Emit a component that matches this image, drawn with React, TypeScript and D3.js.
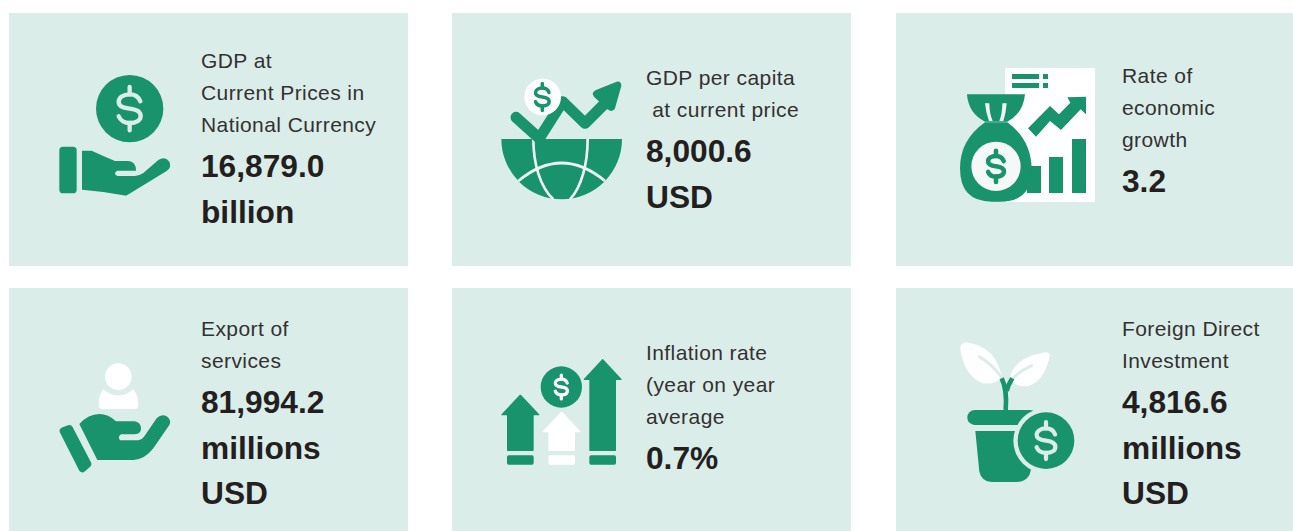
import React from "react";
import * as d3 from "d3";

const WIDTH = 1293;
const HEIGHT = 531;
const CARD_BG = "#dbede8";
const GREEN = "#18936b";
const INK = "#231f20";

const cardLabels = [
  ["GDP at", "Current Prices in", "National Currency"],
  ["GDP per capita", " at current price"],
  ["Rate of", "economic", "growth"],
  ["Export of", "services"],
  ["Inflation rate", "(year on year", "average"],
  ["Foreign Direct", "Investment"],
];
const cardValues = [
  ["16,879.0", "billion"],
  ["8,000.6", "USD"],
  ["3.2"],
  ["81,994.2", "millions", "USD"],
  ["0.7%"],
  ["4,816.6", "millions", "USD"],
];

// layout of the grid, not data
const columnLeft = [9, 452, 896];
const columnWidth = [399, 399, 397];
const rowTop = [13, 288];
const rowHeight = [253, 243];
const textLeft = [201, 646, 1122];
const firstBaseline = [68, 85, 83, 336, 360, 336];
const iconOrigin = [
  [40, 60],
  [490, 70],
  [950, 60],
  [40, 350],
  [490, 350],
  [950, 335],
];

const Dollar = ({ x, y, k, color, w = 13 }: any) => (
  <g transform={`translate(${x},${y}) scale(${k})`} fill="none" stroke={color} strokeWidth={w} strokeLinecap="round">
    <path d="M32 -22C27 -36 14 -43 0 -43C-20 -43 -33 -33 -33 -20C-33 -6 -18 -2 0 0C18 2 33 7 33 22C33 35 20 43 0 43C-14 43 -28 36 -33 23" />
    <path d="M0 -43V-65M0 43V65" />
  </g>
);

// icons are drawn at 3x of the page, so they are scaled by 1/3
const icons = [
  () => (
    <g>
      <circle cx={269} cy={146} r={101} fill={GREEN} />
      <Dollar x={269} y={146} k={1} color={CARD_BG} />
      <rect x={58} y={260} width={52} height={140} rx={11} fill={GREEN} />
      <path
        fill={GREEN}
        d="M126 272L155 272Q190 288 225 303L265 303Q288 305 288 332L232 332Q218 340 232 348L285 348Q298 347 310 339L355 300Q375 288 388 305Q396 322 380 333L262 405Q258 408 250 406L190 396L126 389Z"
      />
    </g>
  ),
  () => (
    <g>
      <path fill={GREEN} d="M34 207L396 207A181 181 0 0 1 34 207Z" />
      <g fill="none" stroke="#eef6f3" strokeWidth={8}>
        <path d="M130 207C130 280 150 350 190 388" />
        <path d="M293 207C293 280 275 350 240 388" />
        <path d="M85 333Q215 225 345 333" />
      </g>
      <path
        fill="none"
        stroke={GREEN}
        strokeWidth={33}
        strokeLinecap="round"
        strokeLinejoin="round"
        d="M78 142L148 205L218 95L285 160L355 90"
      />
      <path fill={GREEN} d="M318 60L380 35Q394 33 394 48L375 115Q368 130 352 118L312 80Q302 68 318 60Z" />
      <circle cx={158} cy={81} r={55} fill="#fff" />
      <Dollar x={157} y={81} k={0.62} color={GREEN} w={17} />
    </g>
  ),
  () => (
    <g>
      <rect x={165} y={24} width={270} height={402} fill="#fff" />
      <g fill={GREEN}>
        <rect x={186} y={42} width={81} height={15} />
        <rect x={279} y={42} width={15} height={15} />
        <rect x={186} y={69} width={81} height={15} />
        <rect x={279} y={69} width={15} height={15} />
        <rect x={231} y={318} width={42} height={81} />
        <rect x={297} y={291} width={42} height={108} />
        <rect x={366} y={237} width={42} height={162} />
        <path d="M234 205L300 138L327 163L361 128L352 112L408 110L408 163L392 148L333 210L300 183L258 230Z" />
        <path d="M51 103L225 103Q220 160 172 185L105 185Q55 160 51 103Z" />
        <path d="M105 187L172 187Q245 240 245 330Q245 425 150 425L125 425Q30 425 30 325Q30 240 105 187Z" />
      </g>
      <path fill="#eef6f3" d="M105 130Q108 160 117 183L128 183Q118 160 118 130ZM170 130Q168 160 160 183L148 183Q157 160 157 130Z" />
      <circle cx={138} cy={319} r={74} fill="#f4f9f7" />
      <Dollar x={138} y={319} k={0.72} color={GREEN} w={19} />
    </g>
  ),
  () => (
    <g>
      <circle cx={235} cy={80} r={40} fill="#fff" />
      <path fill="#fff" d="M190 118Q235 155 280 118Q295 135 295 165Q295 177 283 177L188 177Q176 177 176 165Q176 135 190 118Z" />
      <path
        fill={GREEN}
        stroke={GREEN}
        strokeWidth={22}
        strokeLinejoin="round"
        d="M70 243L88 236L143 342L127 356Z"
      />
      <path
        fill={GREEN}
        d="M118 222Q145 192 178 192Q205 192 228 214L285 214Q303 218 303 236Q303 250 285 253L243 253Q232 260 240 271L295 271Q305 270 312 260L350 205Q365 190 382 200Q395 212 388 225L340 295Q315 328 280 330L172 330Z"
      />
    </g>
  ),
  () => {
    const arrow = (apex: number, head: number, left: number, fill: string) => {
      const cx = left + 40;
      return (
        <g fill={fill}>
          <path
            stroke={fill}
            strokeWidth={4}
            strokeLinejoin="round"
            d={`M${cx} ${apex + 2}L${cx + 55} ${head}L${left + 78} ${head}L${left + 78} 301L${left + 2} 301L${left + 2} ${head}L${cx - 55} ${head}Z`}
          />
          <rect x={left} y={316} width={80} height={28} rx={5} />
        </g>
      );
    };
    return (
      <g>
        {arrow(134, 194, 51, GREEN)}
        {arrow(185, 245, 175, "#fff")}
        {arrow(27, 88, 298, GREEN)}
        <circle cx={214} cy={111} r={62} fill={GREEN} />
        <Dollar x={214} y={111} k={0.55} color="#fff" w={18} />
      </g>
    );
  },
  () => (
    <g>
      <path fill="#fff" d="M31 42C30 26 42 20 60 24C110 36 140 60 156 126C140 146 112 150 92 142C60 128 36 90 31 42Z" />
      <path fill="#fff" d="M299 62C300 52 290 50 275 54C225 64 190 85 179 128C190 150 215 158 238 152C270 142 292 105 299 62Z" />
      <g fill="none" stroke={CARD_BG} strokeWidth={9} strokeLinecap="round">
        <path d="M88 65Q130 90 155 128" />
        <path d="M245 92Q205 110 185 135" />
      </g>
      <g fill="none" stroke={GREEN} strokeWidth={14}>
        <path d="M155 130Q172 165 167 225" />
        <path d="M187 130Q174 150 170 168" />
      </g>
      <rect x={52} y={225} width={210} height={45} rx={22} fill={GREEN} />
      <path fill={GREEN} d="M76 288L210 288L243 400Q240 440 200 441L125 441Q95 440 88 410Z" />
      <circle cx={288} cy={317} r={98} fill={CARD_BG} />
      <circle cx={288} cy={317} r={85} fill={GREEN} />
      <Dollar x={288} y={317} k={0.85} color={CARD_BG} w={15} />
    </g>
  ),
];

export default function App() {
  const labelStep = 32;
  const valueStep = 45.2;
  const cells = d3.range(cardLabels.length);
  return (
    <svg
      width={WIDTH}
      height={HEIGHT}
      viewBox={`0 0 ${WIDTH} ${HEIGHT}`}
      style={{ position: "absolute", left: 0, top: 0, background: "#fff" }}
    >
      {cells.map((i) => {
        const col = i % 3;
        const row = Math.floor(i / 3);
        const labels = cardLabels[i];
        const base = firstBaseline[i];
        const valueBase = base + (labels.length - 1) * labelStep + 45.3;
        return (
          <g key={i}>
            <rect x={columnLeft[col]} y={rowTop[row]} width={columnWidth[col]} height={rowHeight[row]} fill={CARD_BG} />
            <g transform={`translate(${iconOrigin[i][0]},${iconOrigin[i][1]}) scale(${1 / 3})`}>{icons[i]()}</g>
            <g fontFamily="'Liberation Sans', Arial, sans-serif" fill={INK}>
              {labels.map((t, j) => (
                <text
                  key={t}
                  x={textLeft[col]}
                  y={base + j * labelStep}
                  fontSize={21}
                  letterSpacing={0.42}
                  fill="#333132"
                  style={{ whiteSpace: "pre" }}
                >
                  {t}
                </text>
              ))}
              {cardValues[i].map((t, j) => (
                <text key={t} x={textLeft[col]} y={valueBase + j * valueStep} fontSize={31.7} fontWeight={700}>
                  {t}
                </text>
              ))}
            </g>
          </g>
        );
      })}
    </svg>
  );
}
